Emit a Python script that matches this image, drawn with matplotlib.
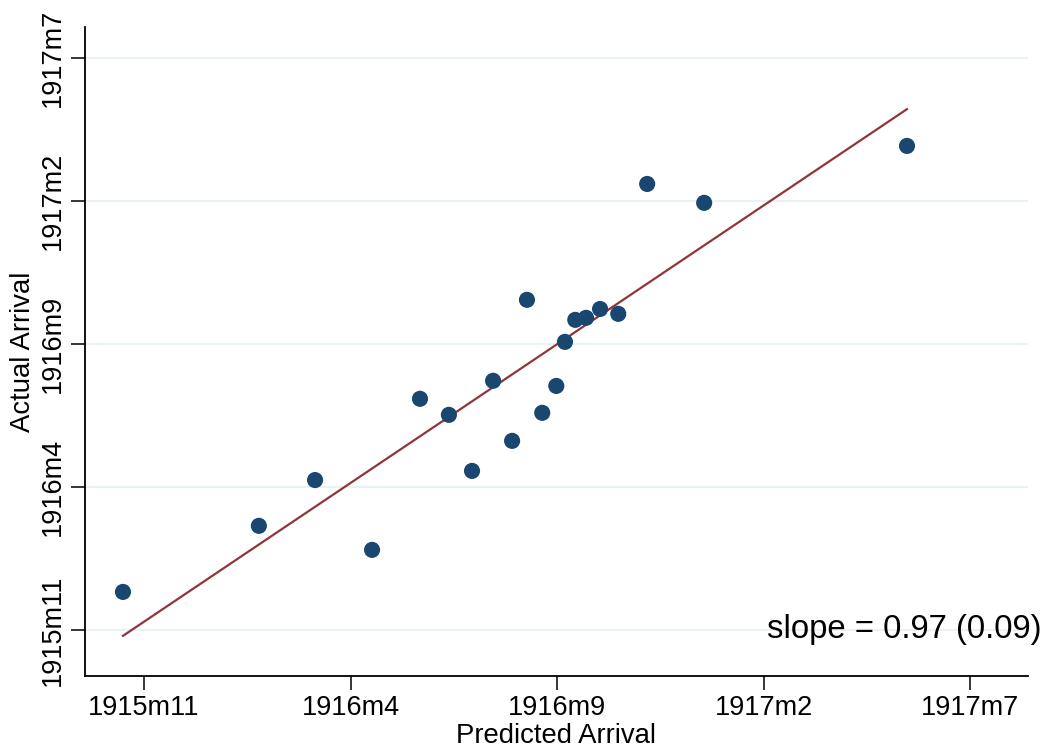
import matplotlib
matplotlib.use("Agg")
import matplotlib.pyplot as plt
import numpy as np
from matplotlib.ticker import FixedLocator, FuncFormatter

plt.rcParams['font.family'] = ['Liberation Sans', 'DejaVu Sans']

# months counted Stata-style (%tm): 0 = 1960m1
predicted = np.array([-530.51, -527.22, -525.86, -524.48, -523.32, -522.62, -522.06,
                      -521.55, -521.09, -520.73, -520.36, -520.02, -519.81, -519.56,
                      -519.30, -518.96, -518.52, -517.82, -516.44, -511.53])
actual = np.array([-528.67, -526.36, -524.76, -527.20, -521.92, -522.48, -524.44,
                   -521.29, -523.39, -518.46, -522.41, -521.47, -519.93, -519.16,
                   -519.09, -518.78, -518.95, -514.41, -515.07, -513.08])
ticks = [-530, -525, -520, -515, -510]
slope = 0.97
slope_se = 0.09

navy = '#1a476f'
maroon = '#90353b'
grid = '#eaf2f3'


def tm_label(v, pos=None):
    v = int(round(v))
    return f"{1960 + v // 12}m{v % 12 + 1}"


fig = plt.figure(figsize=(10.49, 7.47), dpi=100, facecolor='white')
ax = fig.add_axes([0.081, 0.095, 0.899, 0.869])

# fitted line with the reported slope, through the sample means
xs = np.array([predicted.min(), predicted.max()])
ys = actual.mean() + slope * (xs - predicted.mean())
ax.plot(xs, ys, color=maroon, lw=1.6, zorder=3)
ax.scatter(predicted, actual, s=135, color=navy, edgecolors='none', zorder=4)

ax.set_xlim(-531.43, -508.60)
ax.set_ylim(-531.61, -508.92)
for t in ticks:
    ax.axhline(t, color=grid, lw=1.6, zorder=1)

ax.xaxis.set_major_locator(FixedLocator(ticks))
ax.yaxis.set_major_locator(FixedLocator(ticks))
ax.xaxis.set_major_formatter(FuncFormatter(tm_label))
ax.yaxis.set_major_formatter(FuncFormatter(tm_label))
ax.tick_params(axis='both', length=10, width=1.1, labelsize=19.5, color='black')
ax.tick_params(axis='x', pad=4)
for lab in ax.get_yticklabels():
    lab.set_rotation(90)
    lab.set_va('center')

for side in ['top', 'right']:
    ax.spines[side].set_visible(False)
for side in ['left', 'bottom']:
    ax.spines[side].set_linewidth(1.3)

ax.set_xlabel("Predicted Arrival", fontsize=19.8, labelpad=1)
ax.set_ylabel("Actual Arrival", fontsize=19.8, labelpad=3)

ax.text(-508.27, -530.0, f"slope = {slope:.2f} ({slope_se:.2f})", fontsize=23.7,
        ha='right', va='center', clip_on=False, zorder=5)

fig.savefig("out.png", dpi=100, facecolor='white')
